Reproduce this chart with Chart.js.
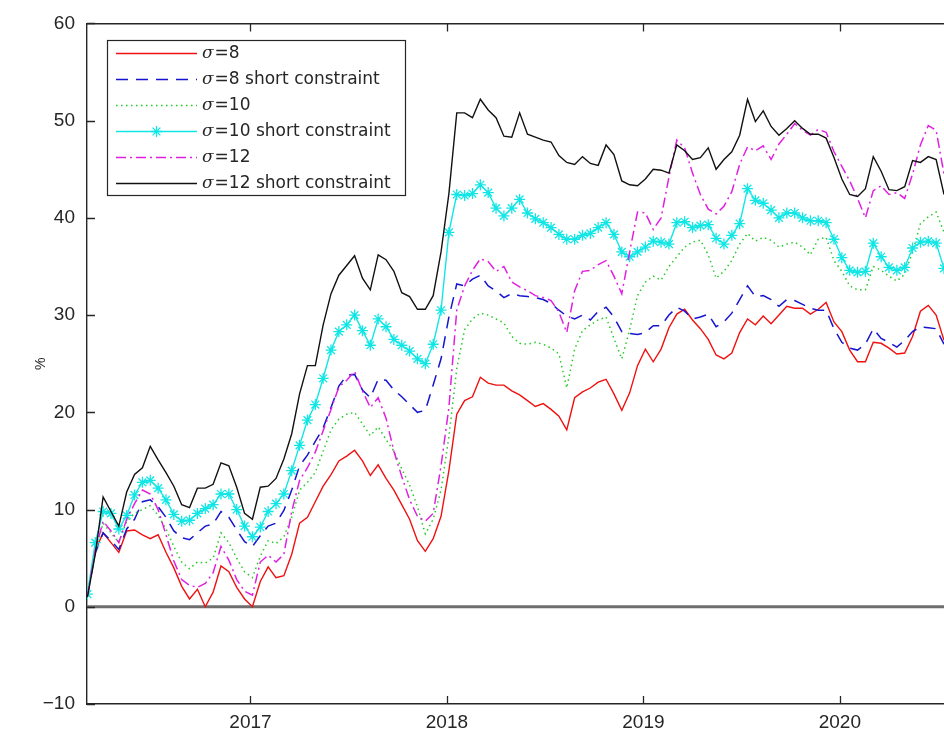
<!DOCTYPE html>
<html>
<head>
<meta charset="utf-8">
<title>Cumulative return by risk level</title>
<script src="https://cdn.jsdelivr.net/npm/chart.js@4/dist/chart.umd.min.js"></script>
<style>
  html, body { margin: 0; padding: 0; background: #fff; overflow: hidden; }
  canvas { display: block; }
</style>
</head>
<body>
<canvas id="chart" width="944" height="743"></canvas>
<script>
// Sampling dates (decimal years, roughly two weeks apart)
const dates = [
  2016.17,2016.21,2016.25,2016.29,2016.33,2016.37,2016.41,2016.45,2016.49,2016.53,
  2016.57,2016.61,2016.65,2016.69,2016.73,2016.77,2016.81,2016.85,2016.89,2016.93,
  2016.97,2017.01,2017.05,2017.09,2017.13,2017.17,2017.21,2017.25,2017.29,2017.33,
  2017.37,2017.41,2017.45,2017.49,2017.53,2017.57,2017.61,2017.65,2017.69,2017.73,
  2017.77,2017.81,2017.85,2017.89,2017.93,2017.97,2018.01,2018.05,2018.09,2018.13,
  2018.17,2018.21,2018.25,2018.29,2018.33,2018.37,2018.41,2018.45,2018.49,2018.53,
  2018.57,2018.61,2018.65,2018.69,2018.73,2018.77,2018.81,2018.85,2018.89,2018.93,
  2018.97,2019.01,2019.05,2019.09,2019.13,2019.17,2019.21,2019.25,2019.29,2019.33,
  2019.37,2019.41,2019.45,2019.49,2019.53,2019.57,2019.61,2019.65,2019.69,2019.73,
  2019.77,2019.81,2019.85,2019.89,2019.93,2019.97,2020.01,2020.05,2020.09,2020.13,
  2020.17,2020.21,2020.25,2020.29,2020.33,2020.37,2020.41,2020.45,2020.49,2020.53
];

// Cumulative return (%) for each portfolio
const sigma8 = [
  1.2,5.8,7.6,6.6,5.6,7.8,7.9,7.4,7.0,7.4,
  5.6,4.0,2.1,0.8,1.8,0.0,1.5,4.2,3.6,2.0,
  0.8,0.0,2.6,4.1,3.0,3.2,5.4,8.6,9.2,10.8,
  12.4,13.6,15.0,15.5,16.1,15.0,13.5,14.6,13.2,12.0,
  10.5,9.0,6.8,5.7,7.0,9.3,14.0,19.8,21.2,21.6,
  23.6,23.0,22.8,22.8,22.2,21.8,21.2,20.6,20.9,20.3,
  19.6,18.2,21.5,22.1,22.5,23.1,23.4,21.9,20.2,22.0,
  24.8,26.5,25.2,26.5,28.7,30.1,30.6,29.5,28.6,27.5,
  25.9,25.5,26.1,28.2,29.6,29.0,29.9,29.1,30.0,30.9,
  30.7,30.7,30.1,30.6,31.3,29.3,28.3,26.4,25.2,25.2,
  27.2,27.1,26.6,26.0,26.1,27.8,30.4,31.0,30.0,27.4
];
const sigma8Short = [
  1.2,5.5,7.6,6.8,5.9,8.0,9.0,10.8,11.0,10.3,
  9.2,7.8,7.1,6.9,7.6,8.3,8.5,9.8,9.2,7.9,
  6.7,6.2,7.3,8.3,8.6,9.9,12.0,14.5,15.6,17.0,
  18.4,20.5,22.7,23.8,23.9,22.3,21.5,23.4,23.3,22.3,
  21.6,20.8,20.0,20.2,22.8,25.5,29.8,33.2,33.0,33.7,
  34.1,33.0,32.5,31.8,32.2,32.0,31.9,31.8,31.6,31.2,
  30.5,29.9,29.6,30.0,29.5,30.4,30.8,29.8,28.3,28.1,
  28.0,28.2,28.9,28.9,30.0,30.8,30.4,29.6,29.8,30.1,
  28.8,29.3,30.2,31.6,33.0,31.9,32.0,31.6,30.9,31.6,
  31.5,31.1,30.7,30.5,30.5,28.6,27.2,26.6,26.4,27.0,
  28.6,27.6,27.2,26.7,27.4,28.3,28.8,28.7,28.6,27.0
];
const sigma10 = [
  1.1,5.6,8.6,7.6,6.6,8.8,9.6,10.0,10.4,9.4,
  8.0,6.2,4.6,3.9,4.6,4.5,5.0,7.6,6.6,5.0,
  3.6,3.0,5.2,6.8,6.5,7.2,9.2,12.0,12.8,13.8,
  16.0,18.2,19.3,19.8,20.0,18.8,17.6,18.5,17.2,16.0,
  14.2,12.5,10.3,7.5,9.0,12.0,17.5,24.5,28.5,29.6,
  30.2,30.0,29.6,29.2,27.8,27.1,27.0,27.2,27.0,26.6,
  26.0,22.5,26.5,28.4,29.0,29.5,29.8,27.6,25.5,28.5,
  32.0,33.4,34.0,33.6,35.0,36.0,37.0,37.5,37.7,36.2,
  33.8,34.5,35.6,37.3,38.4,37.6,38.0,37.7,37.0,37.3,
  37.5,37.0,36.2,37.8,38.0,35.6,34.5,33.0,32.6,32.6,
  35.0,34.6,34.0,33.5,34.2,36.5,39.4,40.1,40.6,38.5
];
const sigma10Short = [
  1.3,6.6,9.8,9.6,8.0,9.4,11.5,12.8,13.0,12.2,
  11.0,9.5,8.8,8.9,9.6,10.1,10.5,11.6,11.6,10.0,
  8.3,7.2,8.2,9.8,10.6,11.6,14.0,16.6,19.2,20.8,
  23.5,26.4,28.3,29.0,30.0,28.4,26.9,29.6,28.8,27.5,
  26.9,26.3,25.5,25.0,27.0,30.5,38.5,42.4,42.3,42.5,
  43.4,42.6,41.0,40.2,41.0,41.9,40.5,39.9,39.5,39.0,
  38.3,37.8,37.8,38.2,38.4,39.0,39.5,38.3,36.5,36.0,
  36.5,37.0,37.6,37.5,37.3,39.5,39.6,39.0,39.2,39.3,
  37.9,37.3,38.2,39.4,43.0,41.8,41.5,40.8,40.0,40.5,
  40.5,40.0,39.7,39.7,39.5,37.8,35.9,34.6,34.4,34.5,
  37.4,36.0,34.9,34.6,34.9,36.9,37.5,37.6,37.4,34.8
];
const sigma12 = [
  1.1,5.8,8.8,7.8,6.6,9.0,10.6,12.0,11.6,10.0,
  7.4,4.7,2.8,2.2,2.0,2.4,3.5,6.2,4.8,2.8,
  1.6,1.2,4.6,5.3,4.6,5.4,9.8,13.0,14.3,15.9,
  18.1,20.3,22.6,23.3,24.2,22.2,20.5,21.5,19.4,16.0,
  13.4,11.0,9.3,8.8,9.6,14.5,20.5,30.5,33.0,34.6,
  35.8,35.5,34.5,35.0,33.4,32.9,32.5,32.0,31.8,31.5,
  30.3,28.2,32.5,34.5,34.6,35.2,35.6,34.0,32.2,36.5,
  40.6,40.5,38.8,40.0,44.2,48.0,47.2,44.6,42.4,40.9,
  40.4,41.2,42.7,45.5,47.3,46.9,47.4,46.0,47.6,48.6,
  49.7,49.0,48.5,49.1,48.8,46.8,45.3,43.8,42.0,40.0,
  42.8,43.3,42.4,42.6,42.0,44.5,47.5,49.5,49.0,44.5
];
const sigma12Short = [
  1.0,5.4,11.3,9.8,8.3,11.8,13.6,14.3,16.5,15.1,
  13.8,12.4,10.5,10.2,12.2,12.2,12.6,14.8,14.5,12.3,
  9.6,9.0,12.3,12.4,13.2,15.2,17.8,21.9,24.8,24.8,
  29.0,32.2,34.1,35.1,36.1,33.8,32.6,36.2,35.7,34.5,
  32.3,31.9,30.6,30.6,32.0,36.5,42.5,50.8,50.8,50.3,
  52.2,51.1,50.3,48.4,48.3,50.8,48.6,48.3,48.0,47.8,
  46.4,45.7,45.5,46.3,45.6,45.4,47.5,46.5,43.8,43.4,
  43.3,44.0,45.0,44.9,44.6,47.5,46.9,46.0,46.2,47.2,
  45.0,46.0,46.8,48.5,52.2,49.9,51.0,49.4,48.5,49.2,
  50.0,49.2,48.6,48.6,48.2,46.2,44.0,42.4,42.2,43.0,
  46.3,44.8,42.9,42.8,43.2,45.9,45.7,46.3,46.0,42.4
];

// Axis settings
const yTicks = [-10, 0, 10, 20, 30, 40, 50, 60];
const xTickYears = [2017, 2018, 2019, 2020];
const xRange = [2016.168, 2020.53];
const labels = [
  ['σ', '=8'],
  ['σ', '=8 short constraint'],
  ['σ', '=10'],
  ['σ', '=10 short constraint'],
  ['σ', '=12'],
  ['σ', '=12 short constraint']
];

const toPoints = arr => arr.map((v, i) => ({ x: dates[i], y: v }));
const INK = '#262626';
const TICK_FONT = { family: '"Liberation Sans", Arial, Helvetica, sans-serif', size: 19 };
const fmtTick = v => (v < 0 ? '\u2212' + Math.abs(v) : String(v));

const series = [
  { data: toPoints(sigma8),       borderColor: '#f01010', borderWidth: 1.4, order: 6 },
  { data: toPoints(sigma8Short),  borderColor: '#1515d0', borderWidth: 1.5, borderDash: [12, 8], order: 5 },
  { data: toPoints(sigma10),      borderColor: '#22cc22', borderWidth: 1.5, borderDash: [1.5, 3.5], order: 4 },
  { data: toPoints(sigma10Short), borderColor: '#11e6e6', borderWidth: 1.4, order: 3,
    pointStyle: 'star', pointRadius: 5.5, pointBorderWidth: 1.3, pointBorderColor: '#11e6e6', pointBackgroundColor: '#11e6e6' },
  { data: toPoints(sigma12),      borderColor: '#e020e0', borderWidth: 1.5, borderDash: [10, 4, 2, 4], order: 2 },
  { data: toPoints(sigma12Short), borderColor: '#111111', borderWidth: 1.4, order: 1 }
];
series.forEach((s, i) => { s.label = labels[i].join(''); s.fill = false; if (s.pointRadius === undefined) s.pointRadius = 0; });

// Zero reference line
const zeroLine = {
  label: 'zero',
  data: [{ x: xRange[0], y: 0 }, { x: xRange[1], y: 0 }],
  borderColor: '#6e6e6e', borderWidth: 3, pointRadius: 0, order: 7
};

// Inward-pointing tick marks on the left, bottom and top edges
const innerTicks = {
  id: 'innerTicks',
  afterDatasetsDraw(chart) {
    const { ctx, chartArea: a, scales: { x, y } } = chart;
    ctx.save();
    ctx.strokeStyle = INK;
    ctx.lineWidth = 1.3;
    ctx.beginPath();
    yTicks.forEach(v => {
      const py = Math.round(y.getPixelForValue(v)) + 0.5;
      ctx.moveTo(a.left, py); ctx.lineTo(a.left + 8, py);
    });
    xTickYears.forEach(v => {
      const px = Math.round(x.getPixelForValue(v)) + 0.5;
      ctx.moveTo(px, a.bottom); ctx.lineTo(px, a.bottom - 8);
      ctx.moveTo(px, a.top); ctx.lineTo(px, a.top + 8);
    });
    ctx.stroke();
    ctx.restore();
  }
};

// Boxed legend in the upper-left corner of the plot
const boxLegend = {
  id: 'boxLegend',
  afterDraw(chart) {
    const { ctx } = chart;
    const L = 107.5, T = 40.5, W = 298, H = 155;
    ctx.save();
    ctx.fillStyle = '#fff';
    ctx.fillRect(L, T, W, H);
    ctx.strokeStyle = INK;
    ctx.lineWidth = 1.2;
    ctx.setLineDash([]);
    ctx.strokeRect(L, T, W, H);
    series.forEach((s, i) => {
      const cy = T + 13 + i * 26;
      const x0 = 116, x1 = 197;
      ctx.strokeStyle = s.borderColor;
      ctx.lineWidth = s.borderWidth;
      ctx.setLineDash(s.borderDash || []);
      ctx.beginPath();
      ctx.moveTo(x0, cy); ctx.lineTo(x1, cy);
      ctx.stroke();
      ctx.setLineDash([]);
      if (s.pointStyle === 'star') {
        const cx = (x0 + x1) / 2, r = s.pointRadius, d = r * Math.SQRT1_2;
        ctx.lineWidth = s.pointBorderWidth;
        ctx.beginPath();
        ctx.moveTo(cx - r, cy); ctx.lineTo(cx + r, cy);
        ctx.moveTo(cx, cy - r); ctx.lineTo(cx, cy + r);
        ctx.moveTo(cx - d, cy - d); ctx.lineTo(cx + d, cy + d);
        ctx.moveTo(cx - d, cy + d); ctx.lineTo(cx + d, cy - d);
        ctx.stroke();
      }
      ctx.fillStyle = INK;
      ctx.textBaseline = 'middle';
      ctx.textAlign = 'left';
      ctx.font = 'italic 17px "DejaVu Serif", serif';
      ctx.fillText(labels[i][0], 202, cy);
      const w = ctx.measureText(labels[i][0]).width;
      ctx.font = '17px "DejaVu Sans", sans-serif';
      ctx.fillText(labels[i][1], 202 + w + 1, cy);
    });
    ctx.restore();
  }
};

new Chart(document.getElementById('chart'), {
  type: 'line',
  data: { datasets: [...series, zeroLine] },
  options: {
    responsive: false,
    animation: false,
    devicePixelRatio: 1,
    layout: { autoPadding: false, padding: { left: 0, right: 0, top: 19.5, bottom: 0 } },
    elements: { line: { tension: 0 } },
    plugins: { legend: { display: false }, tooltip: { enabled: false } },
    scales: {
      x: {
        type: 'linear', position: 'bottom', min: xRange[0], max: xRange[1],
        grid: { display: false, drawTicks: false },
        border: { display: true, color: INK, width: 1.4 },
        ticks: {
          stepSize: 1, includeBounds: false, autoSkip: false, maxRotation: 0,
          font: TICK_FONT, color: INK, padding: 7,
          callback: v => String(v)
        },
        afterFit(s) { s.height = 39; }
      },
      xTop: {
        type: 'linear', position: 'top', min: xRange[0], max: xRange[1],
        grid: { display: false, drawTicks: false },
        border: { display: true, color: INK, width: 1.4 },
        ticks: { display: false },
        afterFit(s) { s.height = 0; }
      },
      y: {
        type: 'linear', min: -10, max: 60,
        grid: { display: false, drawTicks: false },
        border: { display: true, color: INK, width: 1.4 },
        ticks: {
          stepSize: 10, font: TICK_FONT, color: INK, padding: 12,
          callback: fmtTick
        },
        title: {
          display: true, text: '%', color: INK,
          font: { family: '"Liberation Sans", Arial, sans-serif', size: 14 },
          padding: { top: 33, bottom: 0 }
        },
        afterFit(s) { s.width = 87; }
      }
    }
  },
  plugins: [innerTicks, boxLegend]
});
</script>
</body>
</html>
